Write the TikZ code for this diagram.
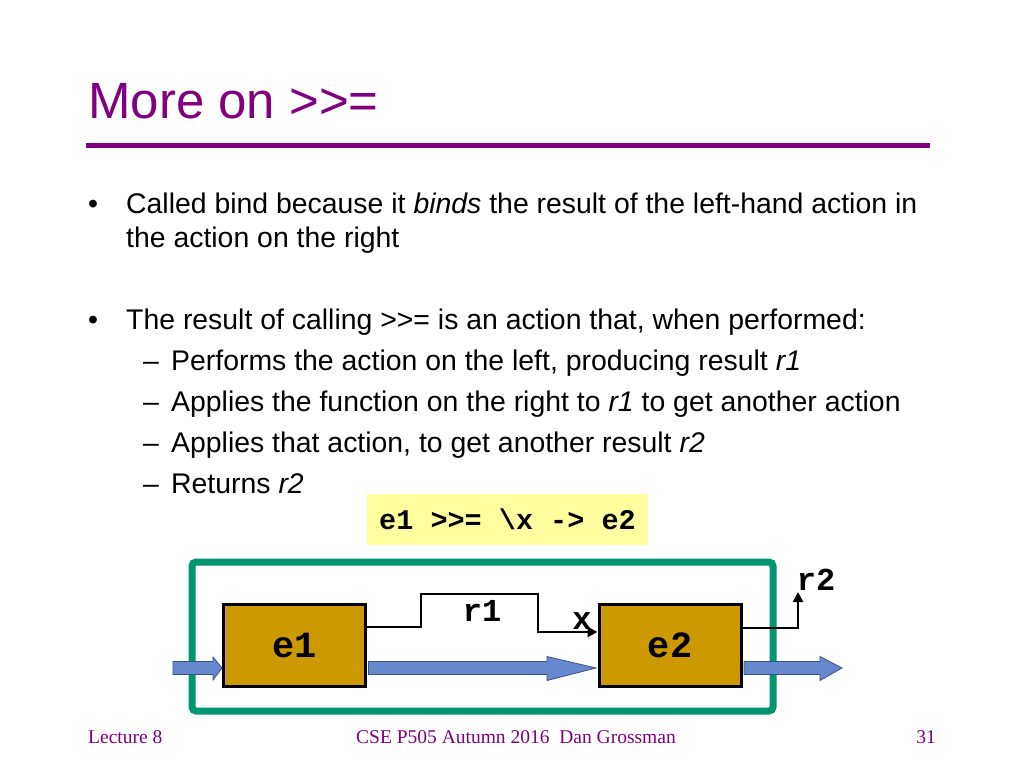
\documentclass[tikz,border=0pt]{standalone}
\usepackage{fontspec}
\setmainfont{Liberation Sans}[Ligatures=NoCommon]
\newfontfamily\codefont{Liberation Mono}
\newfontfamily\footfont{Liberation Serif}
\usetikzlibrary{arrows.meta,calc}
\definecolor{titlepurple}{RGB}{128,0,128}
\definecolor{boxgold}{RGB}{204,153,0}
\definecolor{framegreen}{RGB}{0,150,112}
\definecolor{arrowblue}{RGB}{102,136,204}
\definecolor{arrowedge}{RGB}{60,80,140}
\definecolor{codeyellow}{RGB}{255,255,160}
\begin{document}
\begin{tikzpicture}[x=1pt,y=-1pt,
  bodytext/.style={anchor=base west,inner sep=0pt,font=\fontsize{28.4}{34}\selectfont},
  foottext/.style={inner sep=0pt,text=titlepurple,font=\footfont\fontsize{19.5}{23}\selectfont},
  actbox/.style={draw=black,line width=3pt,fill=boxgold,minimum width=142pt,minimum height=82pt,inner sep=0pt,font=\codefont\bfseries\fontsize{37}{40}\selectfont},
  codelabel/.style={inner sep=0pt,font=\codefont\bfseries\fontsize{32}{34}\selectfont},
  wire/.style={draw=black,line width=2.8pt,-{Triangle[length=10pt,width=10pt]}},
  blockarrow/.style={fill=arrowblue,draw=arrowedge,line width=0.8pt,line join=miter}
]
\useasboundingbox (0,0) rectangle (1024,768);
\fill[white] (0,0) rectangle (1024,768);

% title
\node[anchor=base west,inner sep=0pt,text=titlepurple,font=\fontsize{51}{56}\selectfont] (title) at (88,118) {More on >{}>=};
\draw[titlepurple,line width=5pt] (86,145) -- (930,145);

% bullets
\node[bodytext] (b1dot) at (88,213) {•};
\node[bodytext] (b1) at (126,213) {Called bind because it \textit{binds} the result of the left-hand action in};
\node[bodytext] (b1b) at (126,247) {the action on the right};
\node[bodytext] (b2dot) at (88,329) {•};
\node[bodytext] (b2) at (126,329) {The result of calling >{}>= is an action that, when performed:};
\node[bodytext] (s1d) at (143,370) {–};
\node[bodytext] (s1) at (171,370) {Performs the action on the left, producing result \textit{r1}};
\node[bodytext] (s2d) at (143,411) {–};
\node[bodytext] (s2) at (171,411) {Applies the function on the right to \textit{r1} to get another action};
\node[bodytext] (s3d) at (143,452) {–};
\node[bodytext] (s3) at (171,452) {Applies that action, to get another result \textit{r2}};
\node[bodytext] (s4d) at (143,493) {–};
\node[bodytext] (s4) at (171,493) {Returns \textit{r2}};

% code box
\node[fill=codeyellow,minimum width=281pt,minimum height=51pt,inner sep=0pt,font=\codefont\bfseries\fontsize{28.5}{30}\selectfont] (code) at (507.5,519.5) {e1 >{}>= \textbackslash x -> e2};

% frame
\draw[framegreen,line width=7pt,rounded corners=4pt] (192,562) rectangle (773,711);

% action boxes
\node[actbox] (e1) at (294.5,645.5) {e1};
\node[actbox] (e2) at (670,645.5) {e2};

% blue block arrows
\draw[blockarrow] (173,661.5) -- (213,661.5) -- (213,657) -- (e1.west |- 0,668) -- (213,680) -- (213,674.5) -- (173,674.5) -- cycle;
\draw[blockarrow] ($(e1.east |- 0,668)+(1.5,-6.5)$) -- (547,661.5) -- (547,656.5) -- ($(e2.west |- 0,668)+(-1.5,0)$) -- (547,680.5) -- (547,674.5) -- ($(e1.east |- 0,668)+(1.5,6.5)$) -- cycle;
\coordinate (outTip) at (842,668);
\draw[blockarrow] ($(e2.east |- 0,668)+(1.5,-6.5)$) -- (820,661.5) -- (820,656.5) -- (outTip) -- (820,680.5) -- (820,674.5) -- ($(e2.east |- 0,668)+(1.5,6.5)$) -- cycle;

% r1 wire
\coordinate (w1) at (421,627);
\coordinate (w2) at (421,594);
\coordinate (w3) at (538,594);
\coordinate (w4) at (538,632);
\draw[wire] (e1.east |- w1) -- (w1) -- (w2) -- (w3) -- (w4) -- (e2.west |- w4);
\node[codelabel] (r1) at (482,611) {r1};
\node[codelabel] (xlab) at (582,621) {x};

% r2 wire
\coordinate (v1) at (798,628);
\coordinate (v2) at (798,592);
\draw[wire] (e2.east |- v1) -- (v1) -- (v2);
\node[codelabel] (r2) at (816,580) {r2};

% footer
\node[foottext,anchor=base west] (lect) at (88,743) {Lecture 8};
\node[foottext,anchor=base] (course) at (516,743) {CSE P505 Autumn 2016\ \ Dan Grossman};
\node[foottext,anchor=base east] (page) at (936,743) {31};
\end{tikzpicture}
\end{document}
